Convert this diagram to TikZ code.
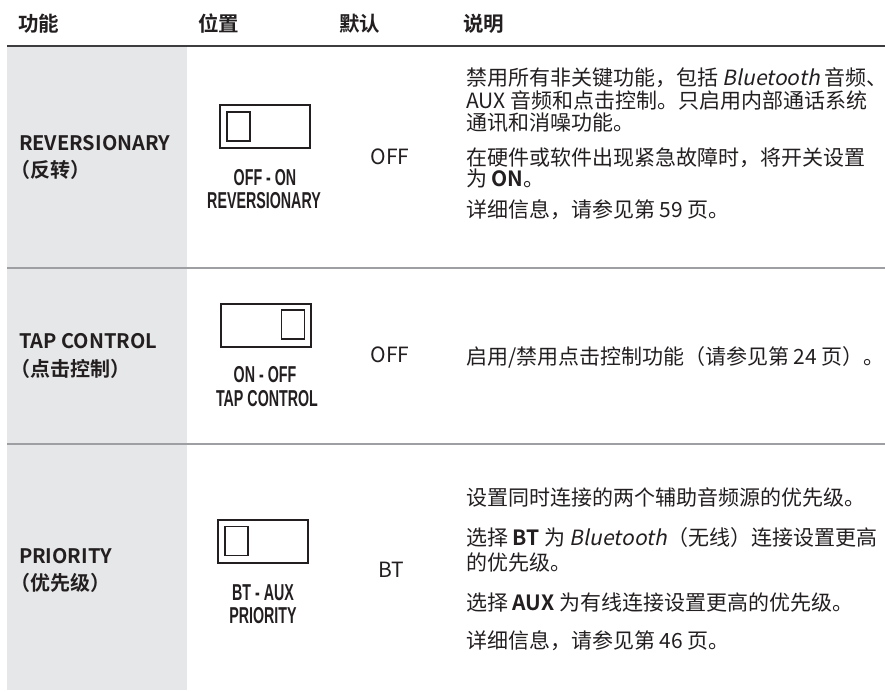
\documentclass[tikz,border=0pt]{standalone}
\usepackage{fontspec}
\setmainfont{Noto Sans CJK SC}[
  BoldFont={Noto Sans CJK SC Bold},
  ItalicFont={Noto Sans CJK SC},
  ItalicFeatures={FakeSlant=0.2}]
\newfontfamily\condfont{Liberation Sans Bold}[FakeStretch=0.62]
\definecolor{ink}{HTML}{231F20}
\definecolor{colgray}{HTML}{E6E7E8}
\definecolor{rowrule}{HTML}{9D9FA2}
\definecolor{headrule}{HTML}{3D3D3F}
\begin{document}
\begin{tikzpicture}[x=1pt, y=-1pt,
    every node/.style={inner sep=0pt, outer sep=0pt, text=ink},
    head/.style={anchor=base west, font=\bfseries\fontsize{20.5}{20.5}\selectfont},
    feat/.style={anchor=base west, font=\bfseries\fontsize{20}{20}\selectfont},
    defval/.style={anchor=base, font=\fontsize{21}{21}\selectfont},
    desc/.style={anchor=base west, align=left, font=\fontsize{21}{22.5}\selectfont},
    swlabel/.style={anchor=base, font=\condfont\fontsize{23}{23}\selectfont},
    switchbox/.style={draw=ink, line width=2.2pt, minimum width=89.8pt, minimum height=42.8pt},
    knob/.style={draw=ink, line width=1.9pt, minimum width=23pt, minimum height=29pt}]
    \useasboundingbox (0,0) rectangle (885,691);

    \fill[colgray] (7,47) rectangle (187,690);
    \draw[headrule, line width=2pt] (7,46) -- (885,46);
    \draw[rowrule, line width=1.2pt] (7,268) -- (885,268);
    \draw[rowrule, line width=1.2pt] (7,444) -- (885,444);

    \node[head] (h1) at (18,31.5) {功能};
    \node[head] (h2) at (198,31.5) {位置};
    \node[head] (h3) at (339,31.5) {默认};
    \node[head] (h4) at (463,31.5) {说明};

    % reversionary
    \node[feat] (f1) at (19,150) {REVERSIONARY};
    \node[feat] (f1b) at (10,177) {（反转）};
    \node[switchbox] (sw1) at (265,126.5) {};
    \node[knob] (k1) at (238.5,126.5) {};
    \node[swlabel] (l1) at (265,185) {OFF - ON};
    \node[swlabel] (l1b) at (264,208) {REVERSIONARY};
    \node[defval] (v1) at (390,164) {OFF};
    \node[desc] (d1a) at (466,130.5) {禁用所有非关键功能，包括 \textit{Bluetooth} 音频、\\
        AUX 音频和点击控制。只启用内部通话系统\\
        通讯和消噪功能。};
    \node[desc, font=\fontsize{21}{21}\selectfont] (d1b) at (466,186.5) {在硬件或软件出现紧急故障时，将开关设置\\
        为 \textbf{ON}。};
    \node[desc] (d1c) at (466,217) {详细信息，请参见第 59 页。};

    % tap control
    \node[feat] (f2) at (19,348) {TAP CONTROL};
    \node[feat] (f2b) at (10,376) {（点击控制）};
    \node[switchbox] (sw2) at (266,325.5) {};
    \node[knob] (k2) at (293,324.5) {};
    \node[swlabel] (l2) at (265,382) {ON - OFF};
    \node[swlabel] (l2b) at (267,406) {TAP CONTROL};
    \node[defval] (v2) at (390,362) {OFF};
    \node[desc] (d2a) at (466,364) {启用/禁用点击控制功能（请参见第 24 页）。};

    % priority
    \node[feat] (f3) at (19,563) {PRIORITY};
    \node[feat] (f3b) at (10,590) {（优先级）};
    \node[switchbox] (sw3) at (263,541.5) {};
    \node[knob] (k3) at (236.5,541) {};
    \node[swlabel] (l3) at (263,600) {BT - AUX};
    \node[swlabel] (l3b) at (263,623) {PRIORITY};
    \node[defval] (v3) at (391,577) {BT};
    \node[desc] (d3a) at (466,505.5) {设置同时连接的两个辅助音频源的优先级。};
    \node[desc, font=\fontsize{21}{25}\selectfont] (d3b) at (466,570.5) {选择 \textbf{BT} 为 \textit{Bluetooth}（无线）连接设置更高\\
        的优先级。};
    \node[desc] (d3c) at (466,610.5) {选择 \textbf{AUX} 为有线连接设置更高的优先级。};
    \node[desc] (d3d) at (466,648.5) {详细信息，请参见第 46 页。};
\end{tikzpicture}
\end{document}
